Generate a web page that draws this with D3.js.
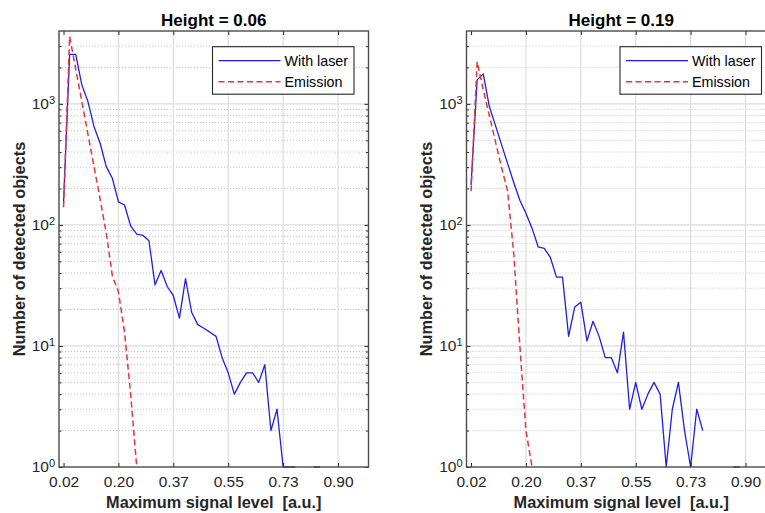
<!DOCTYPE html>
<html>
<head>
<meta charset="utf-8">
<script src="https://cdn.jsdelivr.net/npm/d3@7"></script>
<style>
  html, body { margin: 0; padding: 0; background: #fff; }
  svg { display: block; font-family: "Liberation Sans", Arial, Helvetica, sans-serif; }
</style>
</head>
<body>
<svg id="chart" width="765" height="513"></svg>
<script>
// Histogram bins of the maximum signal level, in 8-bit units (value / 255 gives a.u.)
const binLevels = [5, 10, 15, 20, 25, 30, 35, 40, 45, 50, 55, 60, 65, 70, 75,
                   80, 85, 90, 95, 100, 105, 110, 115, 120, 125, 130, 135, 140, 145, 150,
                   155, 160, 165, 170, 175, 180, 185, 190, 195, 200, 205, 210, 215, 220, 225];

// Axis ticks
const xTickLevels = [5, 50, 95, 140, 185, 230];
const xTickLabels = ["0.02", "0.20", "0.37", "0.55", "0.73", "0.90"];
const yTickValues = [1, 10, 100, 1000];
const yTickExponents = ["0", "1", "2", "3"];

const seriesNames = ["With laser", "Emission"];
const panelTitles = ["Height = 0.06", "Height = 0.19"];
const xLabel = "Maximum signal level  [a.u.]";
const yLabel = "Number of detected objects";

// Number of detected objects per bin (0 = no objects, not drawn on the log axis)
const laserLow = [151, 2560, 2560, 1435, 1045, 648, 473, 303, 243, 155,
                  146, 98, 84, 82, 74, 32, 42, 31, 26, 17,
                  36, 19, 15, 14, 13, 12, 8, 6, 4, 5,
                  6, 6, 5, 7, 2, 3, 1, 1, 1, 0,
                  0, 1, 1];
const emissionLow = [140, 3600, 1940, 1045, 563, 303, 163, 86, 38, 28,
                     13, 4, 1];

const laserHigh = [214, 1578, 1770, 950, 664, 461, 321, 224, 160, 125,
                   94, 66, 64, 54, 37, 37, 12, 21, 23, 11,
                   16, 12, 8, 8, 6, 13, 3, 5, 3, 4,
                   5, 4, 1, 3, 5, 2, 1, 3, 2, 0,
                   0, 0, 0, 1, 1];
const emissionHigh = [190, 2230, 1312, 800, 488, 298, 190, 58, 10, 2,
                      1];

// ---- layout ----
const svg = d3.select("#chart");
const plotTop = 31, plotBottom = 467, plotWidth = 309.5;
const axisColor = "#262626";
const laserColor = "#1f1fe8";
const emissionColor = "#e8333d";

const panels = [
  { left: 59,    title: panelTitles[0], laser: laserLow,  emission: emissionLow },
  { left: 466.5, title: panelTitles[1], laser: laserHigh, emission: emissionHigh }
];

panels.forEach((p, pi) => {
  const x = d3.scaleLinear().domain([0.005, 1.0]).range([p.left, p.left + plotWidth]);
  const y = d3.scaleLog().domain([1, 4000]).range([plotBottom, plotTop]);
  const xTicks = xTickLevels.map(l => l / 255);

  // minor decade values 2..9 within the axis range
  const minorY = [];
  yTickValues.forEach(dec => {
    for (let m = 2; m <= 9; m++) {
      const v = dec * m;
      if (v < 4000) minorY.push(v);
    }
  });

  const g = svg.append("g");

  // grid
  const grid = g.append("g");
  grid.selectAll("line.minor").data(minorY).join("line")
    .attr("x1", p.left).attr("x2", p.left + plotWidth)
    .attr("y1", d => y(d)).attr("y2", d => y(d))
    .attr("stroke", "#c4c4c4").attr("stroke-width", 1)
    .attr("stroke-dasharray", "1,2");
  grid.selectAll("line.ymaj").data(yTickValues.slice(1)).join("line")
    .attr("x1", p.left).attr("x2", p.left + plotWidth)
    .attr("y1", d => y(d)).attr("y2", d => y(d))
    .attr("stroke", "#dcdcdc").attr("stroke-width", 1.2);
  grid.selectAll("line.xmaj").data(xTicks.slice(1)).join("line")
    .attr("x1", d => x(d)).attr("x2", d => x(d))
    .attr("y1", plotTop).attr("y2", plotBottom)
    .attr("stroke", "#dcdcdc").attr("stroke-width", 1.2);

  // data lines
  const clipId = "clip" + pi;
  g.append("clipPath").attr("id", clipId).append("rect")
    .attr("x", p.left).attr("y", plotTop - 1)
    .attr("width", plotWidth).attr("height", plotBottom - plotTop + 2);

  const line = d3.line()
    .defined(d => d.v > 0)
    .x(d => x(d.level / 255))
    .y(d => y(d.v));

  const toPoints = arr => arr.map((v, i) => ({ level: binLevels[i], v }));

  const lines = g.append("g").attr("clip-path", `url(#${clipId})`);
  lines.append("path").datum(toPoints(p.laser))
    .attr("d", line).attr("fill", "none")
    .attr("stroke", laserColor).attr("stroke-width", 1.3)
    .attr("stroke-linejoin", "round");
  lines.append("path").datum(toPoints(p.emission))
    .attr("d", line).attr("fill", "none")
    .attr("stroke", emissionColor).attr("stroke-width", 1.5)
    .attr("stroke-dasharray", "6,3.5");

  // axes
  const styleAxis = sel => {
    sel.select(".domain").remove();
    sel.selectAll(".tick line").attr("stroke", axisColor).attr("stroke-width", 1);
    sel.selectAll(".tick text").attr("fill", axisColor)
      .attr("font-size", "15.5px").attr("font-family", null);
  };

  g.append("g").attr("transform", `translate(0,${plotBottom})`)
    .call(d3.axisBottom(x).tickValues(xTicks)
      .tickFormat((d, i) => xTickLabels[i])
      .tickSizeInner(-4).tickSizeOuter(0).tickPadding(9.3))
    .call(styleAxis);
  g.append("g").attr("transform", `translate(0,${plotTop})`)
    .call(d3.axisTop(x).tickValues(xTicks).tickFormat("")
      .tickSizeInner(-4).tickSizeOuter(0))
    .call(styleAxis);

  const yAxisG = g.append("g").attr("transform", `translate(${p.left},0)`)
    .call(d3.axisLeft(y).tickValues(yTickValues)
      .tickFormat(() => "10")
      .tickSizeInner(-4).tickSizeOuter(0).tickPadding(4))
    .call(styleAxis);
  yAxisG.selectAll(".tick text").each(function(d, i) {
    d3.select(this).append("tspan")
      .attr("dy", "-0.52em").attr("font-size", "11px")
      .text(yTickExponents[i]);
  });
  g.append("g").attr("transform", `translate(${p.left},0)`)
    .call(d3.axisLeft(y).tickValues(minorY).tickFormat("")
      .tickSizeInner(-2.5).tickSizeOuter(0))
    .call(styleAxis);
  g.append("g").attr("transform", `translate(${p.left + plotWidth},0)`)
    .call(d3.axisRight(y).tickValues(yTickValues).tickFormat("")
      .tickSizeInner(-4).tickSizeOuter(0))
    .call(styleAxis);
  g.append("g").attr("transform", `translate(${p.left + plotWidth},0)`)
    .call(d3.axisRight(y).tickValues(minorY).tickFormat("")
      .tickSizeInner(-2.5).tickSizeOuter(0))
    .call(styleAxis);

  // frame
  g.append("rect")
    .attr("x", p.left).attr("y", plotTop)
    .attr("width", plotWidth).attr("height", plotBottom - plotTop)
    .attr("fill", "none").attr("stroke", "#4a4a4a").attr("stroke-width", 1.4);

  // title
  g.append("text")
    .attr("x", p.left + plotWidth / 2).attr("y", 25.5)
    .attr("text-anchor", "middle")
    .attr("font-size", "17px").attr("font-weight", "bold").attr("fill", "#000")
    .text(p.title);

  // axis labels
  g.append("text")
    .attr("x", p.left + plotWidth / 2).attr("y", 508)
    .attr("text-anchor", "middle")
    .style("white-space", "pre")
    .attr("font-size", "16.3px").attr("font-weight", "bold").attr("fill", axisColor)
    .text(xLabel);
  g.append("text")
    .attr("transform", `translate(${p.left - 34.5},${(plotTop + plotBottom) / 2}) rotate(-90)`)
    .attr("text-anchor", "middle")
    .attr("font-size", "16.3px").attr("font-weight", "bold").attr("fill", axisColor)
    .text(yLabel);

  // legend
  const lgX = p.left + plotWidth - 156, lgY = 46.7, lgW = 141.5, lgH = 47.5;
  const lg = g.append("g");
  lg.append("rect").attr("x", lgX).attr("y", lgY).attr("width", lgW).attr("height", lgH)
    .attr("fill", "#fff").attr("stroke", axisColor).attr("stroke-width", 1.1);
  const rows = [
    { name: seriesNames[0], color: laserColor, dash: null, w: 1.3 },
    { name: seriesNames[1], color: emissionColor, dash: "6,3.5", w: 1.5 }
  ];
  rows.forEach((r, i) => {
    const ry = lgY + 14 + i * 21;
    lg.append("line")
      .attr("x1", lgX + 6).attr("x2", lgX + 68)
      .attr("y1", ry).attr("y2", ry)
      .attr("stroke", r.color).attr("stroke-width", r.w)
      .attr("stroke-dasharray", r.dash);
    lg.append("text")
      .attr("x", lgX + 72).attr("y", ry).attr("dy", "0.36em")
      .attr("font-size", "14.3px").attr("fill", "#000")
      .text(r.name);
  });
});
</script>
</body>
</html>
